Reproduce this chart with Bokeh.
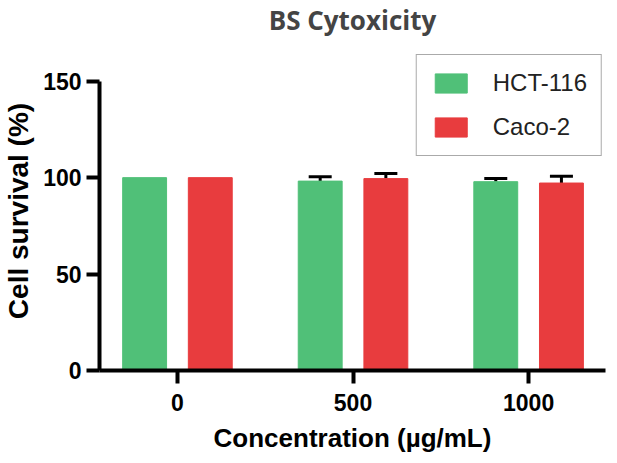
from bokeh.plotting import figure
from bokeh.models import ColumnDataSource, FixedTicker, Legend, LegendItem, Whisker, TeeHead
from bokeh.embed import file_html
from bokeh.resources import INLINE

# ---- data ----
concentrations = ["0", "500", "1000"]
hct116_mean = [100.0, 98.2, 97.9]
hct116_err = [0.0, 2.3, 1.7]
caco2_mean = [100.0, 99.5, 97.2]
caco2_err = [0.0, 2.6, 3.5]
series_names = ["HCT-116", "Caco-2"]
series_colors = ["#50C078", "#E83C3E"]
y_ticks = [0, 50, 100, 150]

# ---- figure ----
p = figure(width=609, height=475, output_backend="svg", toolbar_location=None,
           x_range=(-0.444, 2.438), y_range=(0, 165.4),
           min_border_left=92, min_border_right=4, min_border_top=63, min_border_bottom=91)
p.styles = {"margin-top": "-14px", "margin-bottom": "-20px", "margin-right": "-8px",
            "max-width": "none"}
p.background_fill_color = "white"
p.outline_line_color = None
p.xgrid.visible = False
p.ygrid.visible = False

offset = 0.187
bar_w = 0.25
idx = list(range(len(concentrations)))

renderers = []
for means, errs, color, sign in [(hct116_mean, hct116_err, series_colors[0], -1),
                                  (caco2_mean, caco2_err, series_colors[1], 1)]:
    xs = [i + sign * offset for i in idx]
    src = ColumnDataSource(dict(x=xs, top=means))
    r = p.vbar(x="x", top="top", width=bar_w, bottom=0, source=src,
               fill_color=color, line_color=color, line_width=1)
    renderers.append(r)
    ex = [x for x, e in zip(xs, errs) if e > 0]
    lo = [m for m, e in zip(means, errs) if e > 0]
    up = [m + e for m, e in zip(means, errs) if e > 0]
    esrc = ColumnDataSource(dict(base=ex, lower=lo, upper=up))
    w = Whisker(base="base", lower="lower", upper="upper", source=esrc, dimension="height",
                line_color="black", line_width=3,
                upper_head=TeeHead(size=23, line_color="black", line_width=3),
                lower_head=None)
    p.add_layout(w)

# ---- axes ----
for ax in (p.xaxis, p.yaxis):
    ax.axis_line_width = 4
    ax.axis_line_color = "black"
    ax.major_tick_line_width = 4
    ax.major_tick_line_color = "black"
    ax.major_tick_in = 0
    ax.minor_tick_line_color = None
    ax.major_label_text_font = "Liberation Sans"
    ax.major_label_text_font_style = "bold"
    ax.major_label_text_font_size = "23px"
    ax.major_label_text_color = "black"
    ax.axis_label_text_font = "Liberation Sans"
    ax.axis_label_text_font_style = "bold"
    ax.axis_label_text_color = "black"

p.xaxis.ticker = FixedTicker(ticks=idx)
p.xaxis.major_label_overrides = {i: c for i, c in zip(idx, concentrations)}
p.xaxis.major_tick_out = 13
p.xaxis.major_label_standoff = 10
p.xaxis.axis_label = "Concentration (µg/mL)"
p.xaxis.axis_label_text_font_size = "26px"
p.xaxis.axis_label_standoff = 9

p.yaxis.ticker = FixedTicker(ticks=y_ticks)
p.yaxis.bounds = (0, 150)
p.yaxis.major_tick_out = 13
p.yaxis.major_label_standoff = 5
p.yaxis.axis_label = "Cell survival (%)"
p.yaxis.axis_label_text_font_size = "28px"
p.yaxis.axis_label_standoff = 6

# ---- title ----
p.title.text = "BS Cytoxicity"
p.title.text_font = "Open Sans"
p.title.text_font_style = "bold"
p.title.text_font_size = "26px"
p.title.align = "center"
p.title.offset = -14
p.title.standoff = 27

# ---- legend ----
legend = Legend(items=[LegendItem(label=n, renderers=[r]) for n, r in zip(series_names, renderers)],
                location="top_right", orientation="vertical",
                border_line_color="#555555", border_line_width=1,
                background_fill_color="white", background_fill_alpha=1,
                glyph_width=40, glyph_height=24, label_height=24,
                label_standoff=22, spacing=16, padding=14, margin=3,
                label_text_font="Liberation Sans", label_text_font_size="24px",
                label_text_color="#222222")
p.add_layout(legend)

open("out.html", "w").write(file_html(p, INLINE))
